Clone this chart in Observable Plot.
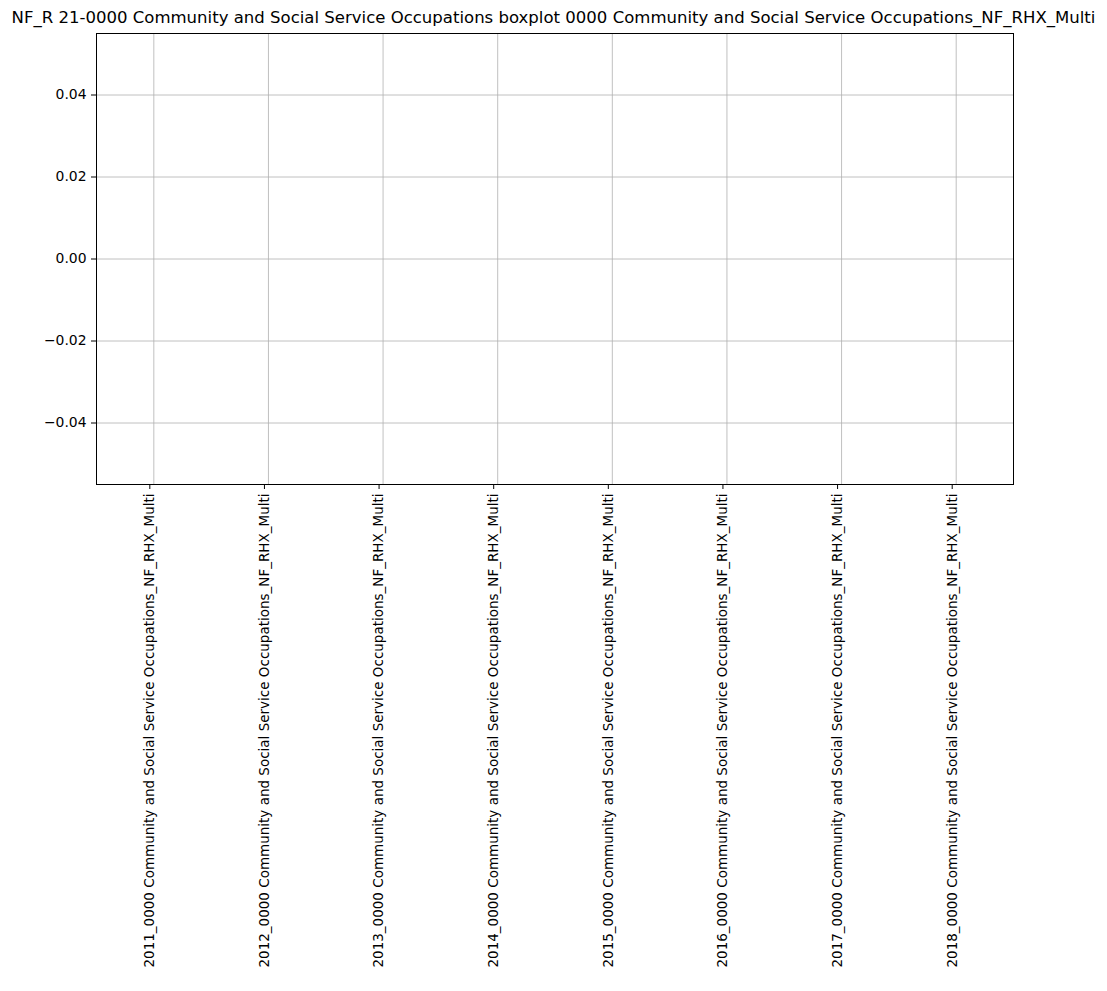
<!DOCTYPE html>
<html>
<head>
<meta charset="utf-8">
<script src="https://cdn.jsdelivr.net/npm/d3@7"></script>
<script src="https://cdn.jsdelivr.net/npm/@observablehq/plot@0.6"></script>
<style>
  html, body { margin: 0; padding: 0; background: #fff; }
  #title { width: 1107px; height: 33px; font-family: "DejaVu Sans", sans-serif; font-size: 16.55px; text-align: center; line-height: 36px; white-space: nowrap; color: #000; }
  #chart svg { display: block; }
</style>
</head>
<body>
<div id="title"></div>
<div id="chart"></div>
<script>
const titleText = "NF_R 21-0000 Community and Social Service Occupations boxplot 0000 Community and Social Service Occupations_NF_RHX_Multi";
const categories = [
  "2011_0000 Community and Social Service Occupations_NF_RHX_Multi",
  "2012_0000 Community and Social Service Occupations_NF_RHX_Multi",
  "2013_0000 Community and Social Service Occupations_NF_RHX_Multi",
  "2014_0000 Community and Social Service Occupations_NF_RHX_Multi",
  "2015_0000 Community and Social Service Occupations_NF_RHX_Multi",
  "2016_0000 Community and Social Service Occupations_NF_RHX_Multi",
  "2017_0000 Community and Social Service Occupations_NF_RHX_Multi",
  "2018_0000 Community and Social Service Occupations_NF_RHX_Multi"
];
const positions = [1, 2, 3, 4, 5, 6, 7, 8];
const yTicks = [-0.04, -0.02, 0.00, 0.02, 0.04];
const yDomain = [-0.055, 0.055];
const xDomain = [0.5, 8.5];
// the series are empty in the reference (no boxes drawn)
const values = [];

document.getElementById("title").textContent = titleText;

const font = "DejaVu Sans, sans-serif";
const chart = Plot.plot({
  width: 1107,
  height: 958,
  marginTop: 0,
  marginLeft: 96,
  marginRight: 94,
  marginBottom: 507,
  style: { fontFamily: font, fontSize: "13.9px", background: "#fff", color: "#000" },
  x: { domain: xDomain, axis: null },
  y: { domain: yDomain, axis: null },
  marks: [
    Plot.gridX(positions, { stroke: "#b0b0b0", strokeOpacity: 1, strokeWidth: 0.8 }),
    Plot.gridY(yTicks, { stroke: "#b0b0b0", strokeOpacity: 1, strokeWidth: 0.8 }),
    Plot.axisY(yTicks, {
      anchor: "left",
      tickSize: 5,
      tickPadding: 5,
      fontSize: 13.9,
      stroke: "#000",
      fill: "#000",
      tickFormat: d => d3.format(".2f")(d).replace("-", "\u2212"),
      label: null
    }),
    Plot.axisX(positions, {
      anchor: "bottom",
      tickSize: 5,
      tickPadding: 4,
      fontSize: 13.5,
      stroke: "#000",
      fill: "#000",
      tickRotate: -90,
      dx: -4,
      tickFormat: d => categories[d - 1],
      label: null
    }),
    Plot.frame({ stroke: "#000", strokeWidth: 1 })
  ]
});
document.getElementById("chart").appendChild(chart);
</script>
</body>
</html>
